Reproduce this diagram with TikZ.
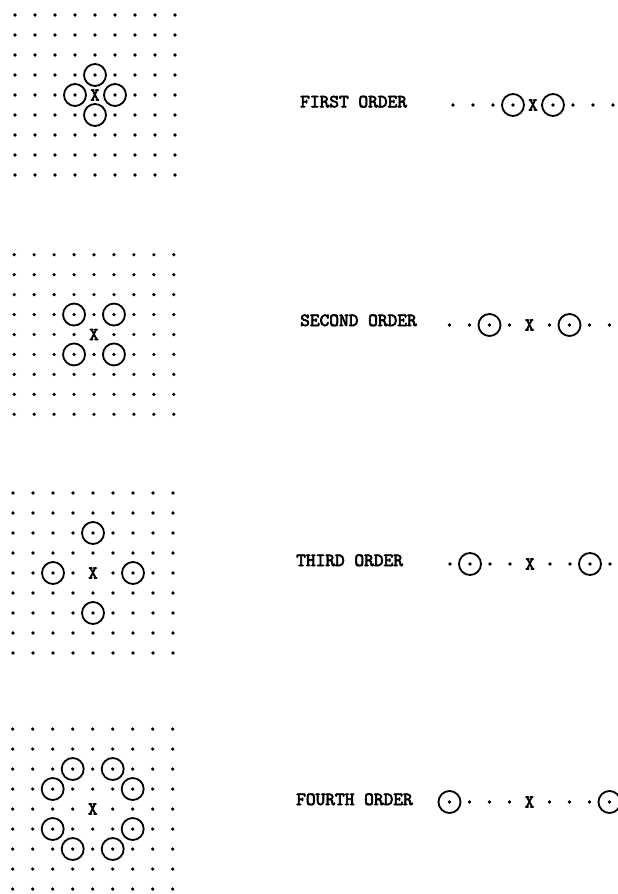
\documentclass[tikz,border=0pt]{standalone}
\usepackage{fontspec}
\newfontfamily\twfont{lmmono10-regular.otf}[FakeBold=3.5]
\begin{document}
\begin{tikzpicture}[x=1pt,y=-1pt,
  dotpt/.style={circle,fill=black,inner sep=0pt,minimum size=3.6pt},
  ring/.style={circle,draw=black,line width=1.8pt,inner sep=0pt,minimum size=22pt},
  xmark/.style={font=\twfont\fontsize{18}{18}\selectfont,inner sep=0pt},
  lbl/.style={anchor=base west,inner sep=0pt,font=\twfont\fontsize{18.5}{20}\selectfont}]
\useasboundingbox[fill=white] (0,0) rectangle (618,894);
% grids
\foreach \g/\cx/\cy/\s in {a/95/95/20, b/94/334.5/19.95, c/93/573/20, d/92.7/809/20} {
  \foreach \i in {0,...,8} {
    \foreach \j in {0,...,8} {
      \pgfmathtruncatemacro\z{abs(\i-4)+abs(\j-4)}
      \ifnum\z>0 \node[dotpt] (g\g\i\j) at ({\cx+(\i-4)*\s},{\cy+(\j-4)*\s}) {}; \fi
    }
  }
  \node[xmark] (x\g) at (\cx,\cy) {X};
}
% first order grid
\node[ring] (ca1) at (ga43) {};
\node[ring] (ca2) at (ga34) {};
\node[ring] (ca3) at (ga54) {};
\node[ring] (ca4) at (ga45) {};
% second order grid
\node[ring] (cb1) at (gb33) {};
\node[ring] (cb2) at (gb53) {};
\node[ring] (cb3) at (gb35) {};
\node[ring] (cb4) at (gb55) {};
% third order grid
\node[ring] (cc1) at (gc42) {};
\node[ring] (cc2) at (gc24) {};
\node[ring] (cc3) at (gc64) {};
\node[ring] (cc4) at (gc46) {};
% fourth order grid
\node[ring] (cd1) at (gd32) {};
\node[ring] (cd2) at (gd52) {};
\node[ring] (cd3) at (gd23) {};
\node[ring] (cd4) at (gd63) {};
\node[ring] (cd5) at (gd25) {};
\node[ring] (cd6) at (gd65) {};
\node[ring] (cd7) at (gd36) {};
\node[ring] (cd8) at (gd56) {};
% rows on the right
\foreach \r/\cx/\cy in {1/533/105, 2/529.5/325, 3/530/564, 4/529.5/802} {
  \foreach \k in {0,...,8} {
    \ifnum\k=4 \else \node[dotpt] (r\r\k) at ({\cx+(\k-4)*20},\cy) {}; \fi
  }
  \node[xmark] (rx\r) at (\cx,\cy) {X};
}
\node[ring] (q11) at (r13) {};
\node[ring] (q12) at (r15) {};
\node[ring] (q21) at (r22) {};
\node[ring] (q22) at (r26) {};
\node[ring] (q31) at (r31) {};
\node[ring] (q32) at (r37) {};
\node[ring] (q41) at (r40) {};
\node[ring] (q42) at (r48) {};
% labels
\node[lbl] (l1) at (300,107.3) {FIRST ORDER};
\node[lbl] (l2) at (300,326) {SECOND ORDER};
\node[lbl] (l3) at (296,566) {THIRD ORDER};
\node[lbl] (l4) at (296,805) {FOURTH ORDER};
\end{tikzpicture}
\end{document}
